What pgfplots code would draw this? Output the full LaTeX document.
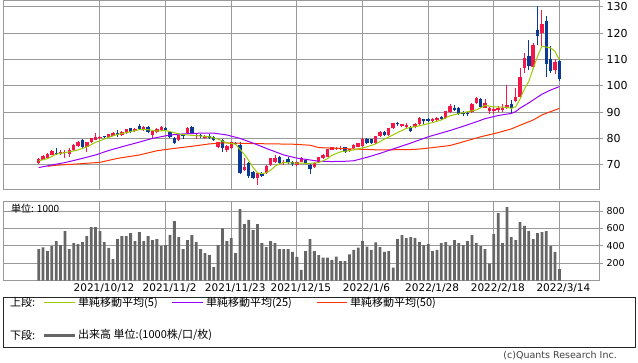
\documentclass[border=0pt]{standalone}
\usepackage{pgfplots}
\pgfplotsset{compat=1.18}
\usepackage{pgfplotstable}
\usepackage{fontspec}
\setmainfont{DejaVu Sans}
\newfontfamily\jp{Noto Sans CJK JP}
\definecolor{cup}{HTML}{F5164A}
\definecolor{cdown}{HTML}{0B3A94}
\definecolor{maA}{HTML}{99CC00}
\definecolor{maB}{HTML}{9900FF}
\definecolor{maC}{HTML}{FF3300}
\definecolor{gridg}{HTML}{999999}
\definecolor{volg}{HTML}{666666}

\pgfplotstableread{
i O H L C V
0 70.5 72.5 70.2 72.2 363
1 71.8 73.6 71.6 73.4 382
2 72.4 74.4 72.2 74.0 340
3 73.7 75.4 73.5 75.2 397
4 74.6 76.5 73.7 74.1 455
5 74.2 75.6 73.6 74.9 409
6 74.4 75.6 72.5 74.9 570
7 74.2 76.2 73.0 75.6 363
8 75.6 77.8 75.2 77.5 432
9 77.2 79.0 76.9 78.7 420
10 79.4 79.6 75.8 76.8 443
11 76.8 78.8 75.0 78.5 512
12 78.5 80.2 78.2 80.0 616
13 79.4 81.9 79.2 80.6 616
14 80.2 80.9 79.8 80.5 570
15 80.8 81.1 80.0 80.4 443
16 80.4 81.8 80.1 81.6 375
17 81.0 82.4 80.8 82.2 248
18 82.0 83.2 80.6 81.2 478
19 81.3 82.7 81.1 82.5 512
20 82.0 83.6 81.8 83.4 512
21 83.8 84.0 82.0 82.3 547
22 82.7 83.9 82.5 83.6 455
23 84.8 85.6 83.3 83.6 558
24 83.2 84.6 83.0 84.4 455
25 84.4 84.6 82.2 82.5 512
26 81.3 83.0 79.8 82.8 466
27 82.3 83.8 82.0 83.6 478
28 83.2 84.8 83.0 84.4 397
29 83.9 84.2 82.8 83.3 409
30 82.5 82.8 80.3 80.6 524
31 80.3 80.6 77.8 78.4 685
32 79.4 81.6 79.1 81.3 501
33 81.4 81.8 79.8 81.0 363
34 82.0 84.5 81.8 84.1 466
35 84.4 84.8 81.6 82.0 524
36 80.8 81.5 79.8 81.2 443
37 81.3 81.8 80.2 80.8 363
38 80.3 81.4 79.6 80.9 317
39 81.0 81.5 79.6 80.2 294
40 80.4 80.8 79.0 79.4 156
41 76.8 78.8 76.2 78.5 409
42 79.4 79.8 75.0 76.5 601
43 75.6 77.6 74.8 77.2 455
44 76.2 78.8 76.0 78.5 489
45 78.4 78.8 77.6 78.0 317
46 77.5 78.6 66.4 66.7 823
47 68.0 72.7 67.6 69.2 650
48 70.5 71.0 64.8 65.8 697
49 67.3 67.5 64.6 65.0 581
50 64.8 67.0 62.3 66.7 650
51 67.0 67.4 65.5 65.8 432
52 66.7 69.8 66.4 69.5 386
53 69.9 72.6 69.6 72.4 455
54 71.1 73.6 70.8 72.7 432
55 72.8 73.4 70.2 70.5 363
56 70.8 71.6 70.0 71.2 363
57 72.0 72.8 70.4 71.0 363
58 71.1 71.4 69.4 70.3 329
59 69.9 71.4 69.6 71.1 273
60 71.1 72.8 70.9 72.4 122
61 71.8 72.1 70.2 70.5 340
62 69.9 70.2 66.5 68.2 478
63 69.0 71.0 68.6 70.8 340
64 71.1 73.0 70.9 72.8 294
65 72.4 73.9 72.2 73.7 263
66 73.0 76.0 72.8 75.8 263
67 75.6 76.8 75.4 76.6 237
68 75.8 76.7 75.4 76.3 275
69 76.0 77.2 75.5 76.5 225
70 76.6 76.9 74.6 75.0 225
71 75.4 76.1 75.0 75.8 302
72 76.2 77.8 76.0 77.5 352
73 76.8 78.4 76.6 78.1 378
74 77.1 80.0 76.9 79.8 455
75 79.8 80.2 77.8 78.1 390
76 79.6 79.8 77.9 78.3 352
77 78.1 81.1 77.8 80.9 440
78 80.9 82.8 80.6 82.5 386
79 82.5 82.8 81.0 81.3 329
80 81.3 84.0 81.0 83.8 340
81 83.8 86.0 83.6 85.7 149
82 85.8 86.4 84.8 85.3 478
83 84.7 85.6 84.2 85.3 524
84 84.3 85.8 84.0 85.0 489
85 84.4 84.7 82.5 82.8 501
86 84.3 85.8 84.0 85.5 489
87 85.4 88.0 85.2 87.7 443
88 87.2 87.5 85.5 86.5 409
89 87.2 87.8 86.4 86.8 420
90 86.6 87.6 86.2 87.3 340
91 87.0 88.2 86.6 87.8 352
92 88.2 88.5 87.0 87.3 432
93 87.6 90.6 87.3 90.4 443
94 89.9 93.2 89.6 92.4 397
95 91.7 92.6 90.4 90.8 466
96 91.4 92.0 88.8 89.2 432
97 89.8 90.6 88.4 89.3 409
98 89.7 90.2 88.6 89.3 455
99 90.2 93.4 89.8 93.1 524
100 93.3 95.8 93.0 95.5 432
101 94.8 95.2 91.7 92.0 397
102 91.7 95.0 91.4 93.3 363
103 90.4 92.0 89.4 91.7 194
104 90.5 91.8 89.2 91.0 535
105 90.8 92.5 90.0 91.6 777
106 90.8 93.0 90.2 91.4 432
107 91.4 100.3 91.0 92.7 846
108 93.1 94.5 89.5 91.4 501
109 94.3 99.2 94.0 95.9 466
110 95.9 106.6 95.5 103.5 673
111 106.6 112.5 104.8 110.4 628
112 111.3 117.4 106.0 107.5 570
113 107.3 116.2 106.5 115.5 478
114 121.2 130.3 115.5 118.9 547
115 119.9 129.0 115.0 123.4 558
116 124.8 126.5 103.3 108.3 570
117 110.0 115.0 104.8 105.7 397
118 106.0 110.2 104.5 109.2 329
119 109.4 110.0 101.8 102.4 133
}\prices

\pgfplotstableread{
i m
0 71.5
2 72.3
4 74.0
7 74.9
9 75.6
11 76.8
13 78.5
16 80.4
18 81.5
20 82.2
23 83.3
25 83.3
27 82.8
29 83.0
30 82.6
32 81.7
34 81.3
37 80.9
39 80.6
41 79.7
43 78.3
45 77.8
46 75.8
47 73.9
48 71.6
49 68.9
50 66.9
51 66.6
52 66.9
53 67.9
54 69.4
55 70.3
56 70.8
59 70.6
62 70.5
64 70.8
65 71.5
66 72.3
67 73.6
69 74.9
72 75.6
75 76.8
77 77.9
79 79.7
82 82.2
84 83.8
87 84.8
90 86.0
92 87.0
94 88.6
97 89.8
100 90.8
102 92.5
104 92.0
107 91.8
108 91.4
109 92.0
110 95.0
111 98.8
112 101.7
113 106.6
114 111.2
115 115.1
116 114.7
117 114.4
118 113.1
119 109.8
}\maFive

\pgfplotstableread{
i m
0 68.9
3 69.9
6 70.8
9 72.0
13 73.7
16 75.4
19 76.8
23 78.6
26 80.0
30 81.3
33 81.7
37 82.0
40 82.0
43 81.3
46 80.0
49 78.2
52 76.2
56 73.7
59 72.5
62 71.8
64 71.3
67 71.2
70 71.3
72 71.5
75 72.8
78 74.3
81 76.0
85 78.2
89 80.6
94 83.0
97 84.6
100 86.3
102 87.5
105 88.7
108 89.5
109 90.2
110 91.5
112 93.5
113 94.6
115 96.8
117 98.4
119 99.7
}\maTwentyFive

\pgfplotstableread{
i m
2 69.4
4 69.8
9 70.3
14 70.9
18 72.4
23 73.7
27 75.3
31 76.2
35 77.0
39 77.9
42 78.3
50 78.0
58 77.8
62 77.4
64 76.5
70 76.1
78 75.6
86 75.8
89 76.3
94 77.3
97 78.7
101 80.6
105 82.2
108 83.6
110 85.0
113 87.0
115 88.9
117 90.2
119 91.4
}\maFifty

\pgfplotsset{chartaxis/.style={
  scale only axis, width=596pt, anchor=south west,
  xmin=-8.16, xmax=128.04,
  axis line style={draw=gridg, line width=1pt},
  xtick={14,29,44,59,74,89,104,119},
  grid=major, major grid style={draw=gridg, line width=1pt},
  xtick style={draw=none},
  ytick pos=right, yticklabel pos=right,
  ytick align=outside, ytick style={draw=gridg, line width=1pt},
  major tick length=4pt,
  /pgf/number format/assume math mode=true,
  /pgf/number format/1000 sep={},
}}

\begin{document}
\begin{tikzpicture}
\path[use as bounding box] (0,0) rectangle (638pt,362pt);

% price panel
\begin{axis}[chartaxis, at={(3pt,172pt)}, height=189pt,
  ymin=60.38, ymax=132.24, ytick={70,80,...,130},
  xticklabels={},
  yticklabel style={font=\fontsize{11}{12}\selectfont}]
% up candles
\addplot[draw=none, mark=none, forget plot,
  restrict expr to domain={\thisrow{C}-\thisrow{O}}{0:100},
  error bars/.cd, y dir=plus, y explicit, error mark=none,
  error bar style={draw=cup, line width=1pt}]
  table[x=i, y=L, y error plus expr={\thisrow{H}-\thisrow{L}}]{\prices};
\addplot[draw=none, mark=none, forget plot,
  restrict expr to domain={\thisrow{C}-\thisrow{O}}{0:100},
  error bars/.cd, y dir=plus, y explicit, error mark=none,
  error bar style={draw=cup, line width=3.4pt}]
  table[x=i, y=O, y error plus expr={\thisrow{C}-\thisrow{O}}]{\prices};
% down candles
\addplot[draw=none, mark=none, forget plot,
  restrict expr to domain={\thisrow{O}-\thisrow{C}}{0.0001:100},
  error bars/.cd, y dir=plus, y explicit, error mark=none,
  error bar style={draw=cdown, line width=1pt}]
  table[x=i, y=L, y error plus expr={\thisrow{H}-\thisrow{L}}]{\prices};
\addplot[draw=none, mark=none, forget plot,
  restrict expr to domain={\thisrow{O}-\thisrow{C}}{0.0001:100},
  error bars/.cd, y dir=plus, y explicit, error mark=none,
  error bar style={draw=cdown, line width=3.4pt}]
  table[x=i, y=C, y error plus expr={\thisrow{O}-\thisrow{C}}]{\prices};
% moving averages
\addplot[maC, line width=1pt, mark=none] table[x=i, y=m]{\maFifty};
\addplot[maB, line width=1pt, mark=none] table[x=i, y=m]{\maTwentyFive};
\addplot[maA, line width=1pt, mark=none] table[x=i, y=m]{\maFive};
\end{axis}

% volume panel
\begin{axis}[chartaxis, at={(3pt,81.4pt)}, height=79.6pt,
  ymin=0, ymax=915, ytick={200,400,600,800},
  xticklabels={2021/10/12,2021/11/2,2021/11/23,2021/12/15,2022/1/6,2022/1/28,2022/2/18,2022/3/14},
  xticklabel style={font=\fontsize{10.5}{12}\selectfont, xshift=4pt},
  yticklabel style={font=\fontsize{9.5}{11}\selectfont}]
\addplot[ybar, bar width=2.8pt, fill=volg, draw=none] table[x=i, y=V]{\prices};
\end{axis}

\node[anchor=west, inner sep=0, font=\jp\fontsize{10}{12}\selectfont] at (11pt,153pt) {単位: 1000};

% legend box
\draw[black!85, line width=0.8pt] (3.5pt,15pt) rectangle (635pt,65pt);
\begin{scope}[every node/.style={anchor=west, inner sep=0, font=\jp\fontsize{11}{13}\selectfont}]
\node at (10pt,59.5pt) {上段:};
\draw[maA, line width=1pt] (44pt,59.5pt) -- (75pt,59.5pt);
\node at (78pt,59.5pt) {単純移動平均(5)};
\draw[maB, line width=1pt] (172pt,59.5pt) -- (203pt,59.5pt);
\node at (206pt,59.5pt) {単純移動平均(25)};
\draw[maC, line width=1pt] (317pt,59.5pt) -- (347pt,59.5pt);
\node at (350pt,59.5pt) {単純移動平均(50)};
\node at (10pt,27pt) {下段:};
\draw[volg, line width=3pt] (44pt,27pt) -- (75pt,27pt);
\node at (78pt,27pt) {出来高 単位:(1000株/口/枚)};
\end{scope}
\node[anchor=east, inner sep=0, text=black!75, font=\fontsize{9.5}{11}\selectfont] at (617pt,6pt) {(c)Quants Research Inc.};
\end{tikzpicture}
\end{document}
